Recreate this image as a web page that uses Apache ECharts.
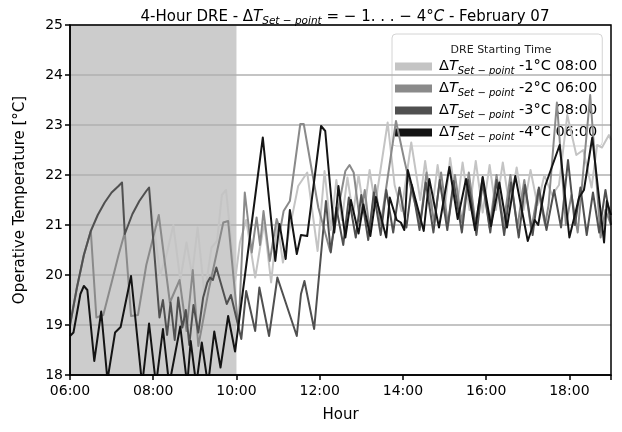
<!DOCTYPE html>
<html>
<head>
<meta charset="utf-8">
<script src="https://cdn.jsdelivr.net/npm/echarts@6/dist/echarts.min.js"></script>
<style>
  html, body { margin: 0; padding: 0; background: #ffffff; }
  #chart { width: 622px; height: 432px; }
</style>
</head>
<body>
<div id="chart"></div>
<script>
// Demand-response events: set-point offset and start time
const eventLabels = ['-1°C 08:00', '-2°C 06:00', '-3°C 08:00', '-4°C 06:00'];
const eventWindow = ['06:00', '10:00'];
const hourTicks = [6, 8, 10, 12, 14, 16, 18];

// Morning warm-up shared by both 08:00 events (identical until the event starts)
const warmup0800 = [
  ['06:00', 19.00], ['06:10', 19.75], ['06:20', 20.40], ['06:30', 20.88], ['06:40', 21.20],
  ['06:50', 21.45], ['07:00', 21.65], ['07:10', 21.78], ['07:15', 21.85], ['07:19', 20.82],
  ['07:30', 21.22], ['07:40', 21.48], ['07:50', 21.68], ['07:54', 21.75]
];

const minus1After = [
  ['08:10', 20.00], ['08:20', 20.45], ['08:29', 21.00], ['08:39', 19.90], ['08:48', 20.65],
  ['08:56', 20.00], ['09:04', 20.95], ['09:14', 19.60], ['09:24', 20.55], ['09:32', 20.68],
  ['09:39', 21.60], ['09:45', 21.70], ['09:58', 19.88], ['10:05', 20.65], ['10:14', 21.10],
  ['10:27', 19.95], ['10:40', 21.05], ['10:50', 19.85], ['10:59', 21.05], ['11:07', 20.25],
  ['11:17', 20.95], ['11:29', 21.78], ['11:42', 22.05], ['11:57', 20.48], ['12:07', 22.08],
  ['12:16', 20.90], ['12:24', 21.90], ['12:32', 21.10], ['12:40', 21.95], ['12:48', 21.20],
  ['12:56', 22.00], ['13:04', 21.25], ['13:12', 22.10], ['13:20', 21.40], ['13:38', 23.05],
  ['13:48', 21.80], ['13:58', 21.28], ['14:12', 22.65], ['14:25', 21.50], ['14:32', 22.28],
  ['14:42', 21.30], ['14:50', 22.20], ['15:00', 21.25], ['15:08', 22.34], ['15:18', 21.35],
  ['15:26', 22.25], ['15:36', 21.30], ['15:45', 22.28], ['15:55', 21.25], ['16:05', 22.20],
  ['16:14', 21.30], ['16:24', 22.25], ['16:34', 21.35], ['16:44', 22.15], ['16:54', 21.30],
  ['17:04', 22.10], ['17:14', 21.40], ['17:24', 22.00], ['17:35', 21.60], ['17:45', 21.80],
  ['17:57', 23.20], ['18:10', 22.40], ['18:20', 22.50], ['18:32', 21.75], ['18:40', 22.60],
  ['18:47', 22.55], ['18:57', 22.80], ['19:00', 22.70]
];

const minus2 = [
  ['06:00', 19.00], ['06:10', 19.75], ['06:20', 20.40], ['06:30', 20.88], ['06:38', 19.15],
  ['06:48', 19.20], ['07:00', 19.85], ['07:10', 20.40], ['07:19', 20.85], ['07:28', 19.18],
  ['07:38', 19.20], ['07:50', 20.20], ['08:08', 21.20], ['08:24', 19.45], ['08:38', 19.90],
  ['08:48', 18.88], ['08:57', 20.10], ['09:05', 18.58], ['09:20', 19.70], ['09:41', 21.05],
  ['09:48', 21.08], ['10:03', 18.90], ['10:12', 21.65], ['10:22', 20.45], ['10:29', 21.15],
  ['10:34', 20.60], ['10:39', 21.28], ['10:48', 20.28], ['10:58', 21.12], ['11:03', 20.90],
  ['11:08', 21.28], ['11:17', 21.48], ['11:32', 23.02], ['11:37', 23.02], ['11:58', 21.35],
  ['12:15', 20.48], ['12:37', 22.08], ['12:43', 22.20], ['12:49', 22.05], ['12:58', 21.08],
  ['13:05', 21.70], ['13:12', 20.90], ['13:20', 21.80], ['13:28', 21.00], ['13:50', 23.08],
  ['14:02', 22.30], ['14:12', 21.70], ['14:25', 21.05], ['14:34', 22.05], ['14:45', 21.05],
  ['14:55', 22.05], ['15:05', 21.00], ['15:15', 22.00], ['15:25', 21.05], ['15:35', 22.05],
  ['15:45', 21.00], ['15:55', 21.95], ['16:05', 20.95], ['16:15', 22.00], ['16:25', 21.00],
  ['16:35', 22.00], ['16:45', 20.95], ['16:55', 21.90], ['17:05', 20.90], ['17:15', 21.70],
  ['17:25', 21.00], ['17:30', 21.40], ['17:42', 23.45], ['17:55', 21.00], ['18:03', 21.60],
  ['18:12', 20.85], ['18:30', 23.60], ['18:45', 20.75], ['18:52', 21.30], ['19:00', 21.00]
];

const minus3After = [
  ['08:09', 19.15], ['08:14', 19.50], ['08:20', 18.80], ['08:25', 19.45], ['08:31', 18.70],
  ['08:36', 19.55], ['08:42', 18.95], ['08:47', 19.30], ['08:52', 18.60], ['08:58', 19.40],
  ['09:05', 18.85], ['09:12', 19.55], ['09:18', 19.85], ['09:22', 19.95], ['09:26', 19.90],
  ['09:31', 20.15], ['09:46', 19.42], ['09:52', 19.60], ['10:07', 18.72], ['10:14', 19.68],
  ['10:27', 18.88], ['10:33', 19.75], ['10:47', 18.78], ['10:59', 19.95], ['11:27', 18.78],
  ['11:33', 19.62], ['11:38', 19.88], ['11:52', 18.92], ['12:09', 21.48], ['12:16', 20.45],
  ['12:24', 21.35], ['12:34', 20.60], ['12:42', 21.55], ['12:52', 20.75], ['13:00', 21.60],
  ['13:10', 20.70], ['13:18', 21.65], ['13:28', 20.80], ['13:36', 21.70], ['13:46', 20.85],
  ['13:55', 21.75], ['14:05', 20.95], ['14:13', 21.80], ['14:24', 20.90], ['14:33', 21.85],
  ['14:44', 20.85], ['14:53', 21.90], ['15:04', 20.90], ['15:13', 21.88], ['15:25', 20.85],
  ['15:34', 21.90], ['15:46', 20.80], ['15:55', 21.85], ['16:06', 20.85], ['16:15', 21.90],
  ['16:26', 20.80], ['16:36', 21.85], ['16:47', 20.75], ['16:56', 21.80], ['17:07', 20.80],
  ['17:16', 21.75], ['17:27', 20.90], ['17:38', 21.70], ['17:48', 20.95], ['17:58', 22.30],
  ['18:08', 21.00], ['18:16', 21.75], ['18:25', 20.80], ['18:34', 21.65], ['18:43', 20.85],
  ['18:52', 21.70], ['19:00', 21.00]
];

// values under 18 run below the plotted range and are clipped by the frame
const minus4 = [
  ['06:00', 18.78], ['06:05', 18.85], ['06:15', 19.62], ['06:20', 19.78], ['06:25', 19.70],
  ['06:35', 18.28], ['06:45', 19.27], ['06:54', 17.90], ['07:05', 18.85], ['07:13', 18.96],
  ['07:28', 19.98], ['07:44', 17.80], ['07:54', 19.03], ['08:04', 17.80], ['08:14', 18.92],
  ['08:23', 17.80], ['08:39', 18.97], ['08:49', 17.80], ['08:54', 18.68], ['09:02', 17.80],
  ['09:10', 18.65], ['09:19', 17.80], ['09:28', 18.87], ['09:37', 18.15], ['09:48', 19.18],
  ['09:58', 18.47], ['10:38', 22.75], ['10:56', 20.28], ['11:02', 21.02], ['11:11', 20.32],
  ['11:17', 21.30], ['11:27', 20.42], ['11:33', 20.80], ['11:42', 20.78], ['12:02', 22.98],
  ['12:08', 22.88], ['12:21', 20.85], ['12:27', 21.78], ['12:37', 20.75], ['12:45', 21.50],
  ['12:56', 20.83], ['13:03', 21.41], ['13:13', 20.78], ['13:21', 21.56], ['13:36', 20.75],
  ['13:41', 21.55], ['13:51', 21.10], ['13:57', 21.05], ['14:02', 20.90], ['14:07', 22.10],
  ['14:30', 20.88], ['14:38', 21.92], ['14:52', 20.95], ['15:07', 22.16], ['15:19', 21.12],
  ['15:31', 21.92], ['15:44', 20.90], ['15:55', 21.96], ['16:07', 20.98], ['16:19', 21.85],
  ['16:30', 20.95], ['16:42', 21.98], ['17:00', 20.68], ['17:10', 21.10], ['17:15', 21.00],
  ['17:25', 21.78], ['17:46', 22.60], ['18:00', 20.75], ['18:14', 21.55], ['18:21', 21.70],
  ['18:33', 22.75], ['18:50', 20.65], ['18:54', 21.48], ['19:00', 21.20]
];

const lineColors = ['#c4c4c4', '#8a8a8a', '#505050', '#141414'];
const FONT = 'DejaVu Sans';

function toHour(s) {
  const p = s.split(':').map(Number);
  return p[0] + p[1] / 60;
}
function toPoints(rows) {
  return rows.map(r => [toHour(r[0]), r[1]]);
}

const seriesRows = [
  warmup0800.concat(minus1After),
  minus2,
  warmup0800.concat(minus3After),
  minus4
];

const lineSeries = seriesRows.map((rows, i) => ({
  name: eventLabels[i],
  type: 'line',
  data: toPoints(rows),
  showSymbol: false,
  symbol: 'none',
  clip: true,
  z: 4,
  color: lineColors[i],
  lineStyle: { color: lineColors[i], width: 2, join: 'round' },
  emphasis: { disabled: true }
}));

const windowSeries = {
  name: 'window',
  type: 'line',
  data: [],
  z: 1,
  silent: true,
  markArea: {
    silent: true,
    itemStyle: { color: '#cccccc', opacity: 1 },
    data: [[{ xAxis: toHour(eventWindow[0]) }, { xAxis: toHour(eventWindow[1]) }]]
  }
};

function richSet(size, subSize) {
  return {
    n: { fontFamily: FONT, fontSize: size, fontWeight: 'normal', color: '#000' },
    i: { fontFamily: FONT, fontSize: size, fontWeight: 'normal', fontStyle: 'italic', color: '#000' },
    s: { fontFamily: FONT, fontSize: subSize, fontWeight: 'normal', fontStyle: 'italic', color: '#000', padding: [9, 0, 0, 0] }
  };
}

const chart = echarts.init(document.getElementById('chart'), null, { renderer: 'canvas' });
chart.setOption({
  animation: false,
  backgroundColor: '#ffffff',
  title: [
    {
      text: '{n|4-Hour DRE - Δ}{i|T}{s|Set − point}{n| = − 1. . . − 4°}{i|C}{n| - February 07}',
      left: 340, top: 2, textAlign: 'center',
      textStyle: { fontWeight: 'normal', rich: richSet(15, 10.5) }
    },
    {
      text: 'DRE Starting Time',
      left: 496, top: 40, textAlign: 'center',
      textStyle: { fontFamily: FONT, fontSize: 11, fontWeight: 'normal', color: '#222' }
    }
  ],
  grid: { left: 70, right: 11, top: 25, bottom: 57, containLabel: false },
  legend: {
    data: eventLabels,
    orient: 'vertical',
    left: 392, top: 34,
    z: 2,
    backgroundColor: 'rgba(255,255,255,0.8)',
    borderColor: '#d4d4d4', borderWidth: 1, borderRadius: 4,
    padding: [25, 5, 4, 3],
    icon: 'rect', itemWidth: 37, itemHeight: 8, itemGap: 5,
    selectedMode: false,
    formatter: name => '{n|Δ}{i|T}{s|Set − point}{n| ' + name + '}',
    textStyle: { rich: richSet(14.5, 10), padding: [0, 0, 0, 2] }
  },
  xAxis: {
    type: 'value', min: 6, max: 19, interval: 2, z: 3,
    name: 'Hour', nameLocation: 'middle', nameGap: 33,
    nameTextStyle: { fontFamily: FONT, fontSize: 15, color: '#000' },
    axisLine: { show: true, lineStyle: { color: '#000', width: 1.5 } },
    axisTick: { show: true, length: 5, lineStyle: { color: '#000', width: 1.5 } },
    axisLabel: {
      fontFamily: FONT, fontSize: 14, color: '#000', margin: 9,
      formatter: v => hourTicks.indexOf(v) >= 0 ? String(v).padStart(2, '0') + ':00' : ''
    },
    splitLine: { show: false }
  },
  yAxis: {
    type: 'value', min: 18, max: 25, interval: 1, z: 3,
    name: 'Operative Temperature [°C]', nameLocation: 'middle', nameGap: 42,
    nameTextStyle: { fontFamily: FONT, fontSize: 15, color: '#000' },
    axisLine: { show: true, lineStyle: { color: '#000', width: 1.5 } },
    axisTick: { show: true, length: 5, lineStyle: { color: '#000', width: 1.5 } },
    axisLabel: { fontFamily: FONT, fontSize: 14, color: '#000', margin: 7 },
    splitLine: { show: true, lineStyle: { color: '#b0b0b0', width: 1.5 } }
  },
  series: [windowSeries].concat(lineSeries)
});

// frame on the top and right sides of the plot
const gridRect = chart.getModel().getComponent('grid').coordinateSystem.getRect();
chart.setOption({
  graphic: [{
    type: 'rect', z: 10, silent: true,
    shape: { x: gridRect.x, y: gridRect.y, width: gridRect.width, height: gridRect.height },
    style: { fill: null, stroke: '#000', lineWidth: 1.5 }
  }]
});
</script>
</body>
</html>
